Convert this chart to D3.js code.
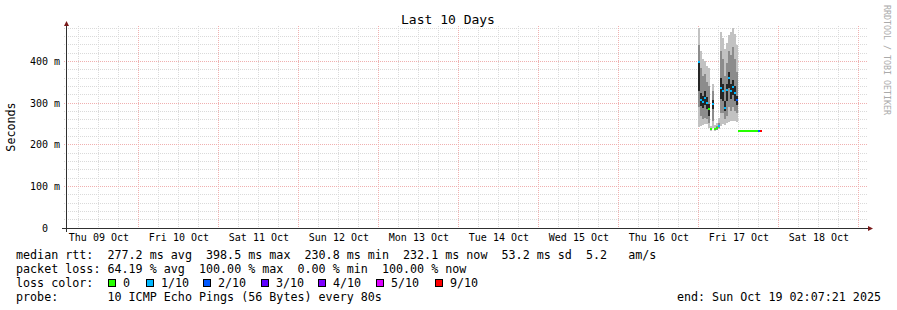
<!DOCTYPE html>
<html><head><meta charset="utf-8">
<script src="https://cdn.jsdelivr.net/npm/d3@7"></script>
<style>
html,body{margin:0;padding:0;background:#fff;}
svg{display:block;}
text{font-family:"DejaVu Sans Mono",monospace;white-space:pre;}
</style></head><body>
<svg id="chart" width="897" height="310"></svg>
<script>
// ---------------- data ----------------
const title = "Last 10 Days";
const yAxisTitle = "Seconds";
const watermark = "RRDTOOL / TOBI OETIKER";
const rangeStart = "2025-10-09T02:07:21Z";
const rangeEnd = "2025-10-19T02:07:21Z";
const yMax = 480;
const yTicks = [0, 100, 200, 300, 400];
const yTickLabels = ["  0", "100 m", "200 m", "300 m", "400 m"];
const dayLabels = ["Thu 09 Oct", "Fri 10 Oct", "Sat 11 Oct", "Sun 12 Oct", "Mon 13 Oct",
                   "Tue 14 Oct", "Wed 15 Oct", "Thu 16 Oct", "Fri 17 Oct", "Sat 18 Oct"];
const firstLabelDay = "2025-10-09T00:00:00Z";

// measurements, one entry per 36-minute step, in ms
const dataStart = "2025-10-17T00:00:00Z";
const stepSeconds = 2160;
const medianMs = [398, 306, 302, 312, 300, 284, 236, 297, 237, 238, 243, 335, 328, 288, 330, 359,
                  328, 338, 322, 306, 231, 231, 231, 231, 231, 231, 231, 231, 231, 231, 231, 231];
const lossTenths = [1, 1, 1, 1, 1, 0, 0, 1, 0, 0, 1, 1, 1, 1, 1, 1,
                    1, 1, 1, 2, 0, 0, 0, 0, 0, 0, 0, 0, 0, 0, 2, 9];
const pingMin = [243, 246, 248, 250, 250, 240, 234, 240, 234, 235, 238, 245, 250, 248, 252, 255,
                 256, 258, 256, 255, 231, 231, 231, 231, 231, 231, 231, 231, 231, 231, 231, 231];
const pingP20 = [290, 268, 262, 265, 262, 252, 235, 258, 235, 236, 240, 275, 275, 262, 270, 290,
                 280, 290, 280, 275, 231, 231, 231, 231, 231, 231, 231, 231, 231, 231, 231, 231];
const pingP40 = [330, 292, 288, 295, 285, 270, 236, 285, 236, 237, 242, 310, 305, 280, 305, 335,
                 310, 320, 305, 295, 231, 231, 231, 231, 231, 231, 231, 231, 231, 231, 231, 231];
const pingP60 = [400, 325, 318, 330, 315, 298, 237, 308, 238, 240, 246, 360, 345, 305, 345, 375,
                 345, 355, 340, 318, 231, 231, 231, 231, 231, 231, 231, 231, 231, 231, 231, 231];
const pingP80 = [440, 385, 365, 370, 350, 340, 240, 330, 240, 244, 252, 425, 405, 365, 395, 425,
                 415, 435, 405, 375, 231, 231, 231, 231, 231, 231, 231, 231, 231, 231, 231, 231];
const pingMax = [480, 425, 405, 400, 390, 385, 246, 345, 247, 252, 265, 470, 455, 430, 445, 462,
                 470, 482, 465, 440, 231, 231, 231, 231, 231, 231, 231, 231, 231, 231, 231, 231];

const lossLabels = ["0", "1/10", "2/10", "3/10", "4/10", "5/10", "9/10"];
const lossLevels = [0, 1, 2, 3, 4, 5, 9];
const lossColors = ["#26ff00", "#00b8ff", "#0059ff", "#5e00ff", "#7e00ff", "#dd00ff", "#ff0000"];

const legendLine1 = "median rtt:  277.2 ms avg  398.5 ms max  230.8 ms min  232.1 ms now  53.2 ms sd  5.2   am/s";
const legendLine2 = "packet loss: 64.19 % avg  100.00 % max  0.00 % min  100.00 % now";
const legendLine3 = "loss color:";
const legendLine4 = "probe:       10 ICMP Echo Pings (56 Bytes) every 80s";
const endLabel = "end: Sun Oct 19 02:07:21 2025";

// ---------------- layout ----------------
const svg = d3.select("#chart");
const plot = {left: 66, right: 866, top: 28, bottom: 228};
const t0 = new Date(rangeStart), t1 = new Date(rangeEnd);
const x = d3.scaleUtc().domain([t0, t1]).range([plot.left, plot.right]);
const y = d3.scaleLinear().domain([0, yMax]).range([plot.bottom, plot.top]);
const px = v => Math.floor(v) + 0.5;

svg.append("rect").attr("width", 897).attr("height", 310).attr("fill", "#fff");

// grid
const gGrid = svg.append("g");
const minorColor = "#dadada", majorColor = "#f0b0b0";
const minorY = d3.range(20, yMax + 1, 20).filter(v => v % 100 !== 0);
gGrid.selectAll(".hmin").data(minorY).join("line")
  .attr("x1", plot.left - 2).attr("x2", plot.right + 2)
  .attr("y1", d => px(y(d))).attr("y2", d => px(y(d)))
  .attr("stroke", minorColor).attr("stroke-dasharray", "1,1");
const hours6 = d3.utcHour.every(6).range(t0, t1).filter(d => d.getUTCHours() !== 0);
gGrid.selectAll(".vmin").data(hours6).join("line")
  .attr("x1", d => px(x(d))).attr("x2", d => px(x(d)))
  .attr("y1", plot.top - 2).attr("y2", plot.bottom + 2)
  .attr("stroke", minorColor).attr("stroke-dasharray", "1,1");
gGrid.selectAll(".hmaj").data(yTicks.filter(v => v > 0)).join("line")
  .attr("x1", plot.left - 2).attr("x2", plot.right + 2)
  .attr("y1", d => px(y(d))).attr("y2", d => px(y(d)))
  .attr("stroke", majorColor).attr("stroke-dasharray", "1,1");
const days = d3.utcDay.range(d3.utcDay.ceil(t0), t1);
gGrid.selectAll(".vmaj").data(days).join("line")
  .attr("x1", d => px(x(d))).attr("x2", d => px(x(d)))
  .attr("y1", plot.top - 2).attr("y2", plot.bottom + 2)
  .attr("stroke", majorColor).attr("stroke-dasharray", "1,1");

// smoke + median
const ds = new Date(dataStart);
const steps = medianMs.map((m, i) => {
  const a = new Date(ds.getTime() + i * stepSeconds * 1000);
  const b = new Date(a.getTime() + stepSeconds * 1000);
  return {a, b, med: m, loss: lossTenths[i], mn: pingMin[i], p20: pingP20[i],
          p40: pingP40[i], p60: pingP60[i], p80: pingP80[i], mx: pingMax[i]};
});
svg.append("clipPath").attr("id", "clip").append("rect")
  .attr("x", plot.left).attr("y", plot.top).attr("width", plot.right - plot.left).attr("height", plot.bottom - plot.top);
const gData = svg.append("g").attr("clip-path", "url(#clip)");
const bands = [
  {lo: "mn", hi: "mx", color: "#c2c2c2"},
  {lo: "p20", hi: "p80", color: "#8c8c8c"},
  {lo: "p40", hi: "p60", color: "#262626"}
];
bands.forEach(bd => {
  gData.selectAll(null).data(steps.filter(s => s[bd.hi] > s[bd.lo])).join("rect")
    .attr("x", s => Math.floor(x(s.a)))
    .attr("width", s => Math.floor(x(s.b)) - Math.floor(x(s.a)))
    .attr("y", s => Math.round(y(s[bd.hi])))
    .attr("height", s => Math.max(1, Math.round(y(s[bd.lo])) - Math.round(y(s[bd.hi]))))
    .attr("fill", bd.color);
});
function lossColor(l) {
  let idx = 0;
  lossLevels.forEach((lv, i) => { if (l >= lv) idx = i; });
  return lossColors[idx];
}
gData.selectAll(".med").data(steps).join("rect")
  .attr("x", s => Math.floor(x(s.a)))
  .attr("width", s => Math.floor(x(s.b)) - Math.floor(x(s.a)))
  .attr("y", s => Math.floor(y(s.med)) - 1)
  .attr("height", 2)
  .attr("fill", s => lossColor(s.loss));

// axes
const axisColor = "#303030", arrowColor = "#7a1a1a";
svg.append("line").attr("x1", px(plot.left)).attr("x2", px(plot.left))
  .attr("y1", plot.bottom + 4).attr("y2", plot.top - 5)
  .attr("stroke", axisColor);
svg.append("line").attr("x1", plot.left - 4).attr("x2", plot.right + 3)
  .attr("y1", px(plot.bottom)).attr("y2", px(plot.bottom))
  .attr("stroke", axisColor);
svg.append("path").attr("d", `M${plot.left - 2},${plot.top - 2}L${plot.left + 3},${plot.top - 2}L${plot.left + 0.5},${plot.top - 7}Z`)
  .attr("fill", arrowColor);
svg.append("path").attr("d", `M${plot.right + 2},${plot.bottom - 2}L${plot.right + 2},${plot.bottom + 3}L${plot.right + 7},${plot.bottom + 0.5}Z`)
  .attr("fill", arrowColor);

// y tick labels
svg.selectAll(".ylab").data(yTicks).join("text")
  .attr("x", 30).attr("y", d => y(d) + 3.7)
  .attr("font-size", "10px").attr("fill", "#000")
  .text((d, i) => yTickLabels[i]);

// x tick labels (noon of each day)
const labelDay0 = new Date(firstLabelDay);
svg.selectAll(".xlab").data(dayLabels).join("text")
  .attr("x", (d, i) => x(d3.utcHour.offset(d3.utcDay.offset(labelDay0, i), 12)))
  .attr("y", 240.7).attr("text-anchor", "middle")
  .attr("font-size", "10px").attr("fill", "#000")
  .text(d => d);

// titles
svg.append("text").attr("x", 448).attr("y", 23.5).attr("text-anchor", "middle")
  .attr("font-size", "13px").attr("fill", "#000").text(title);
svg.append("text").attr("transform", "translate(15,127) rotate(-90)")
  .attr("text-anchor", "middle").attr("font-size", "11.7px").attr("fill", "#000").text(yAxisTitle);
svg.append("text").attr("transform", "translate(884,5) rotate(90)")
  .attr("font-size", "8.3px").attr("fill", "#aaaaaa").text(watermark);

// legend
const lg = svg.append("g").attr("font-size", "11.7px").attr("fill", "#000");
lg.append("text").attr("x", 16).attr("y", 259).text(legendLine1);
lg.append("text").attr("x", 16).attr("y", 273).text(legendLine2);
lg.append("text").attr("x", 16).attr("y", 287).text(legendLine3);
lg.append("text").attr("x", 16).attr("y", 301).text(legendLine4);
lg.append("text").attr("x", 881).attr("y", 301).attr("text-anchor", "end").text(endLabel);
const legendBoxX = [108, 146, 203, 261, 318, 376, 435];
lossLabels.forEach((lab, i) => {
  lg.append("rect").attr("x", legendBoxX[i] + 0.5).attr("y", 279.5).attr("width", 7).attr("height", 7)
    .attr("fill", lossColors[i]).attr("stroke", "#000").attr("stroke-width", 1);
  lg.append("text").attr("x", legendBoxX[i] + 15).attr("y", 287).text(lab);
});
</script>
</body></html>
